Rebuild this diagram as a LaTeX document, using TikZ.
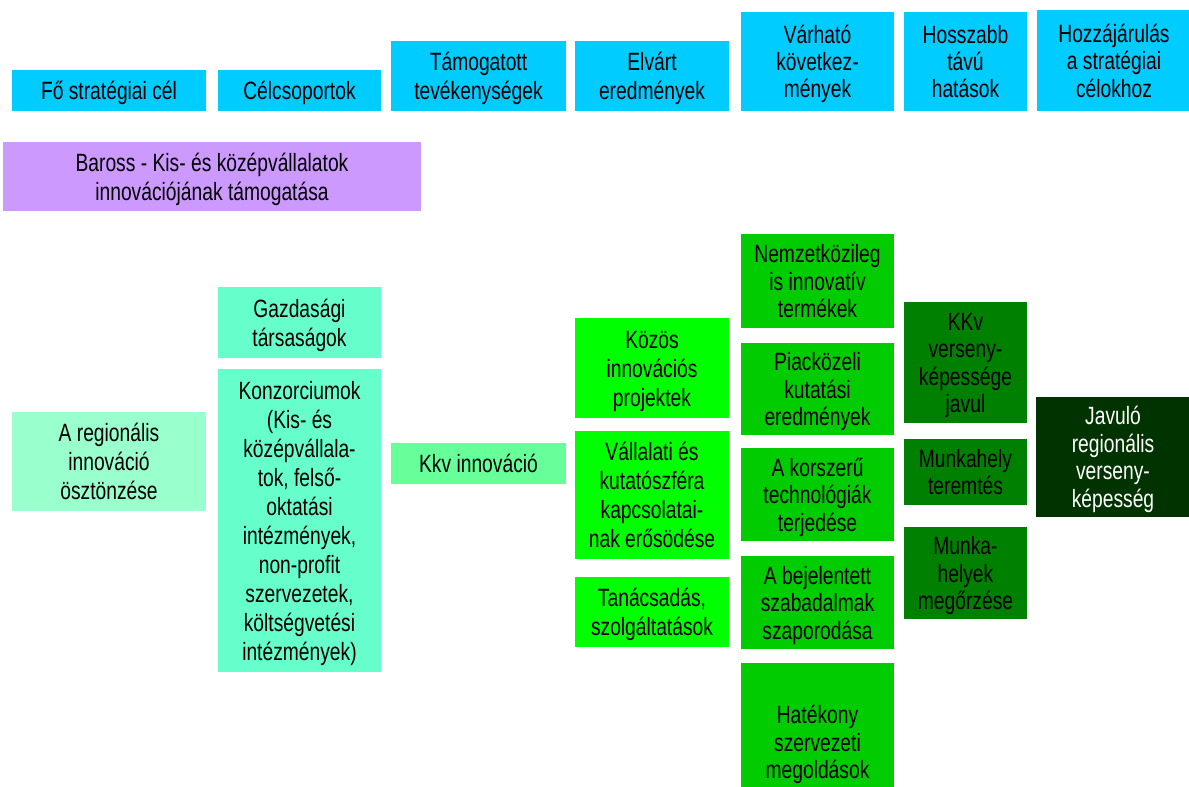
\documentclass[tikz,border=0pt]{standalone}
\usepackage{fontspec}
\setmainfont{Liberation Sans}[FakeStretch=0.77]
\definecolor{hdr}{HTML}{00CCFF}
\definecolor{purp}{HTML}{CC99FF}
\definecolor{mint}{HTML}{99FFCC}
\definecolor{aqua}{HTML}{66FFCC}
\definecolor{lgreen}{HTML}{66FF99}
\definecolor{green1}{HTML}{00FF00}
\definecolor{green2}{HTML}{00CC00}
\definecolor{green3}{HTML}{008000}
\definecolor{green4}{HTML}{003300}
\newcommand\tx[1]{\raisebox{-3.5pt}[\height][\depth]{\begin{tabular}{@{}c@{}}#1\end{tabular}}}
\tikzset{
  box/.style={inner sep=0pt, outer sep=0pt, text=black,
    font=\fontsize{25}{29}\selectfont},
  tight/.style={font=\fontsize{25}{27.5}\selectfont},
}
\begin{document}
\begin{tikzpicture}[x=1pt,y=-1pt]
\clip (0,0) rectangle (1189,787);
\fill[white] (0,0) rectangle (1189,787);
% header row
\node[box,fill=hdr,minimum width=194pt,minimum height=41pt] (h1) at (109,90.5) {\tx{Fő stratégiai cél}};
\node[box,fill=hdr,minimum width=163pt,minimum height=41pt] (h2) at (299.5,90.5) {\tx{Célcsoportok}};
\node[box,fill=hdr,minimum width=175pt,minimum height=70pt] (h3) at (478.5,76) {\tx{Támogatott\\tevékenységek}};
\node[box,fill=hdr,minimum width=154pt,minimum height=70pt] (h4) at (652,76) {\tx{Elvárt\\eredmények}};
\node[box,fill=hdr,minimum width=153pt,minimum height=99pt,tight] (h5) at (817.5,61.5) {\tx{Várható\\következ-\\mények}};
\node[box,fill=hdr,minimum width=123pt,minimum height=99pt,tight] (h6) at (965.5,61.5) {\tx{Hosszabb\\távú\\hatások}};
\node[box,fill=hdr,minimum width=154pt,minimum height=101pt,tight] (h7) at (1114,60.5) {\tx{Hozzájárulás\\a stratégiai\\célokhoz}};
% program
\node[box,fill=purp,minimum width=418pt,minimum height=69pt] (prog) at (212,176.5) {\tx{Baross - Kis- és középvállalatok\\innovációjának támogatása}};
% body
\node[box,fill=mint,minimum width=194pt,minimum height=99pt] (reg) at (109,461.5) {\tx{A regionális\\innováció\\ösztönzése}};
\node[box,fill=aqua,minimum width=163pt,minimum height=71pt] (gazd) at (299.5,322.5) {\tx{Gazdasági\\társaságok}};
\node[box,fill=aqua,minimum width=163pt,minimum height=303pt] (konz) at (299.5,520.5) {\tx{Konzorciumok\\(Kis- és\\középvállala-\\tok, felső-\\oktatási\\intézmények,\\non-profit\\szervezetek,\\költségvetési\\intézmények)}};
\node[box,fill=lgreen,minimum width=175pt,minimum height=41pt] (kkv) at (478.5,463.5) {\tx{Kkv innováció}};
\node[box,fill=green1,minimum width=154pt,minimum height=100pt] (kozos) at (652,368) {\tx{Közös\\innovációs\\projektek}};
\node[box,fill=green1,minimum width=154pt,minimum height=128pt] (vall) at (652,495) {\tx{Vállalati és\\kutatószféra\\kapcsolatai-\\nak erősödése}};
\node[box,fill=green1,minimum width=154pt,minimum height=70pt] (tan) at (652,612) {\tx{Tanácsadás,\\szolgáltatások}};
\node[box,fill=green2,minimum width=153pt,minimum height=94pt,tight] (nemz) at (817.5,281) {\tx{Nemzetközileg\\is innovatív\\termékek}};
\node[box,fill=green2,minimum width=153pt,minimum height=92pt,tight] (piac) at (817.5,389) {\tx{Piacközeli\\kutatási\\eredmények}};
\node[box,fill=green2,minimum width=153pt,minimum height=93pt,tight] (kors) at (817.5,494.5) {\tx{A korszerű\\technológiák\\terjedése}};
\node[box,fill=green2,minimum width=153pt,minimum height=93pt,tight] (bej) at (817.5,602.5) {\tx{A bejelentett\\szabadalmak\\szaporodása}};
\node[box,fill=green2,minimum width=153pt,minimum height=158pt,tight] (hat) at (817.5,742) {\tx{Hatékony\\szervezeti\\megoldások}};
\node[box,fill=green3,minimum width=123pt,minimum height=121pt,tight] (kkvv) at (965.5,362.5) {\tx{KKv\\verseny-\\képessége\\javul}};
\node[box,fill=green3,minimum width=123pt,minimum height=66pt,tight] (mter) at (965.5,472) {\tx{Munkahely\\teremtés}};
\node[box,fill=green3,minimum width=123pt,minimum height=92pt,tight] (mmeg) at (965.5,573) {\tx{Munka-\\helyek\\megőrzése}};
\node[box,fill=green4,minimum width=154pt,minimum height=120pt,tight,text=white] (jav) at (1113,457) {\tx{Javuló\\regionális\\verseny-\\képesség}};
\end{tikzpicture}
\end{document}
